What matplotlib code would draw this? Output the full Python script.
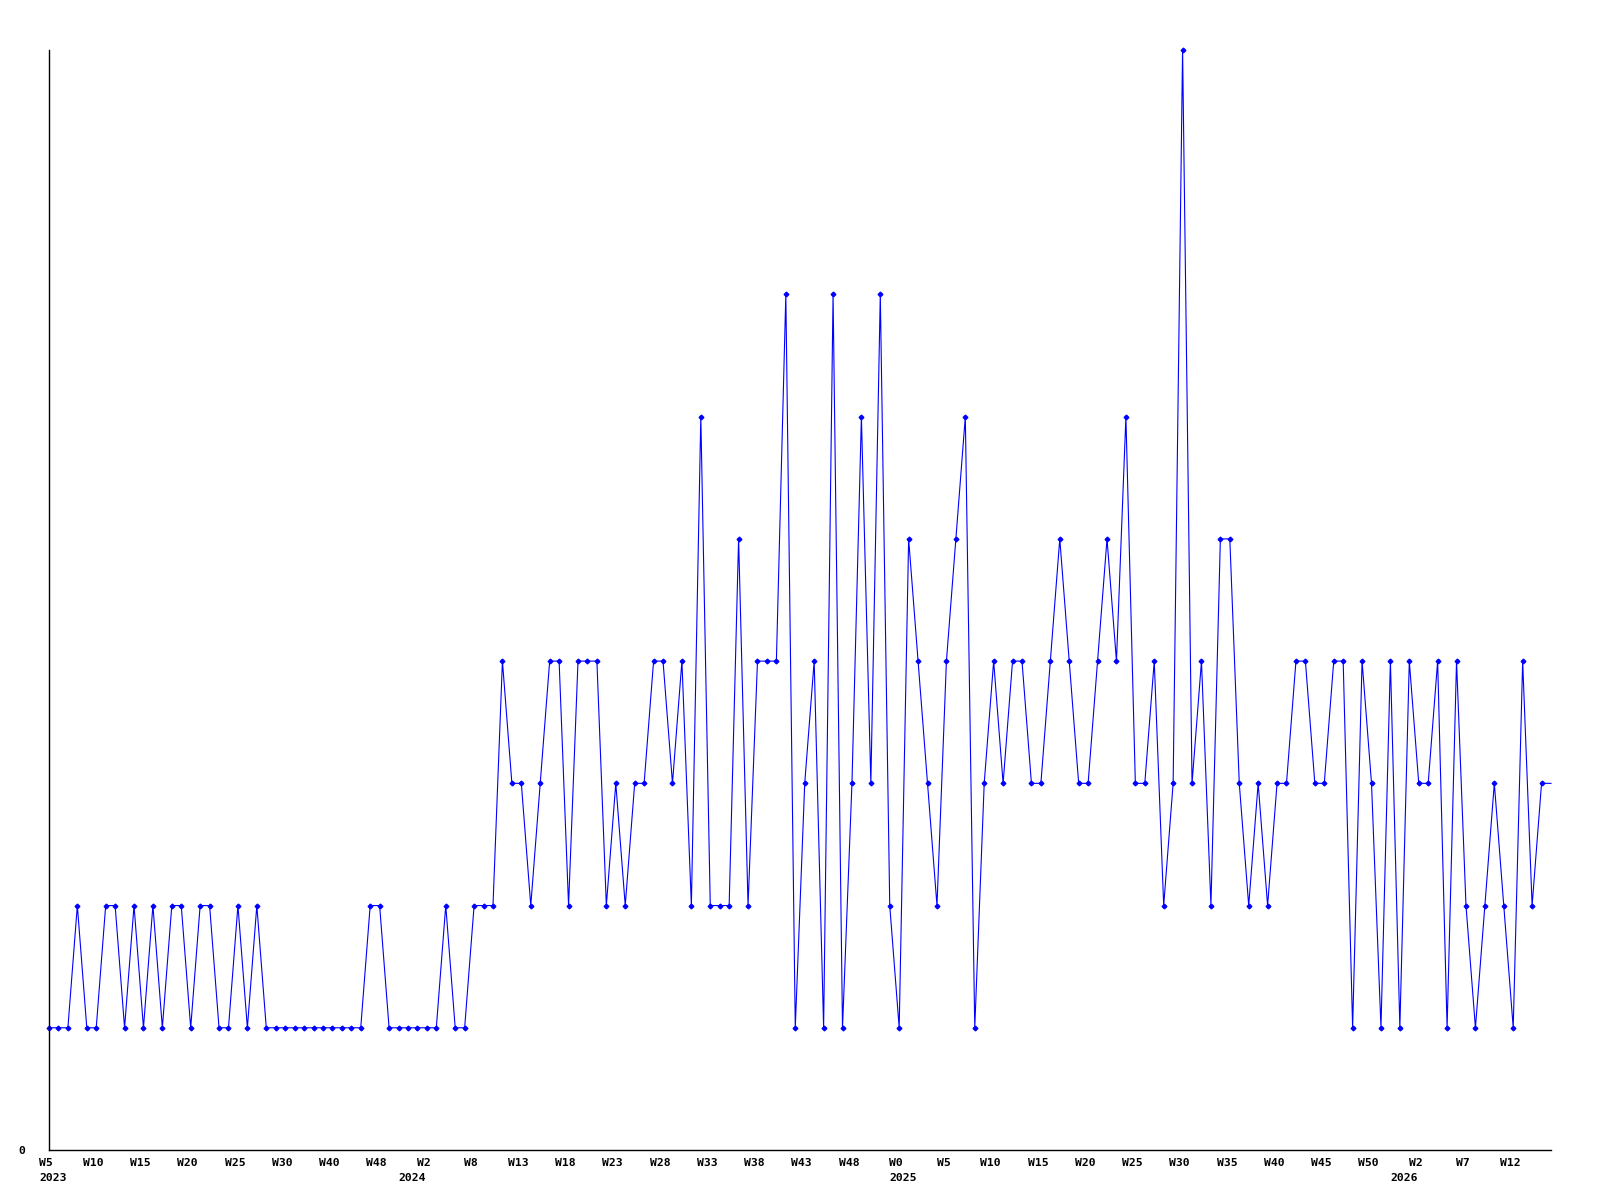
import matplotlib
matplotlib.use("Agg")
import matplotlib.pyplot as plt
import matplotlib.transforms as mtransforms

# weekly counts, one value per point (W5 2023 .. ~W16 2026)
values = [
    1, 1, 1, 2, 1, 1, 2, 2, 1, 2,
    1, 2, 1, 2, 2, 1, 2, 2, 1, 1,
    2, 1, 2, 1, 1, 1, 1, 1, 1, 1,
    1, 1, 1, 1, 2, 2, 1, 1, 1, 1,
    1, 1, 2, 1, 1, 2, 2, 2, 4, 3,
    3, 2, 3, 4, 4, 2, 4, 4, 4, 2,
    3, 2, 3, 3, 4, 4, 3, 4, 2, 6,
    2, 2, 2, 5, 2, 4, 4, 4, 7, 1,
    3, 4, 1, 7, 1, 3, 6, 3, 7, 2,
    1, 5, 4, 3, 2, 4, 5, 6, 1, 3,
    4, 3, 4, 4, 3, 3, 4, 5, 4, 3,
    3, 4, 5, 4, 6, 3, 3, 4, 2, 3,
    9, 3, 4, 2, 5, 5, 3, 2, 3, 2,
    3, 3, 4, 4, 3, 3, 4, 4, 1, 4,
    3, 1, 4, 1, 4, 3, 3, 4, 1, 4,
    2, 1, 2, 3, 2, 1, 4, 2, 3, 3,
]

# every 5th point carries a week label
tick_labels = [
    "W5", "W10", "W15", "W20", "W25", "W30", "W40", "W48", "W2", "W8",
    "W13", "W18", "W23", "W28", "W33", "W38", "W43", "W48", "W0", "W5",
    "W10", "W15", "W20", "W25", "W30", "W35", "W40", "W45", "W50", "W2",
    "W7", "W12",
]
year_labels = ["2023", "2024", "2025", "2026"]
year_pos = [0.4, 38.4, 90.4, 143.4]

x = list(range(len(values)))
tick_pos = x[::5][:len(tick_labels)]

font = dict(family="DejaVu Sans Mono", weight="bold", size=8.2)

fig = plt.figure(figsize=(16, 12), dpi=100)
ax = fig.add_axes([49 / 1600, 50 / 1200, 1502 / 1600, 1100 / 1200])

ax.plot(x, values, color="#0000ff", linewidth=0.8, marker="D", markersize=2.4,
        markevery=slice(0, len(values) - 1), clip_on=False)

ax.set_xlim(0, len(values) - 1)
ax.set_ylim(0, max(values))

for side in ["top", "right"]:
    ax.spines[side].set_visible(False)
for side in ["left", "bottom"]:
    ax.spines[side].set_color("black")
    ax.spines[side].set_linewidth(1)

ax.set_yticks([0])
ax.set_yticklabels(["0"], fontdict=font)
ax.tick_params(axis="y", length=0, pad=17)

ax.set_xticks(tick_pos)
ax.set_xticklabels(tick_labels, fontdict=font)
ax.tick_params(axis="x", length=0, pad=6)
shift = mtransforms.ScaledTranslation(-3 / 100, 0, fig.dpi_scale_trans)
for lab in ax.get_xticklabels():
    lab.set_transform(lab.get_transform() + shift)

trans = mtransforms.blended_transform_factory(ax.transData, ax.transAxes)
for name, pos in zip(year_labels, year_pos):
    ax.text(pos, -0.0255, name, transform=trans, ha="center", va="center", **font)

fig.savefig("out.png", dpi=100)
